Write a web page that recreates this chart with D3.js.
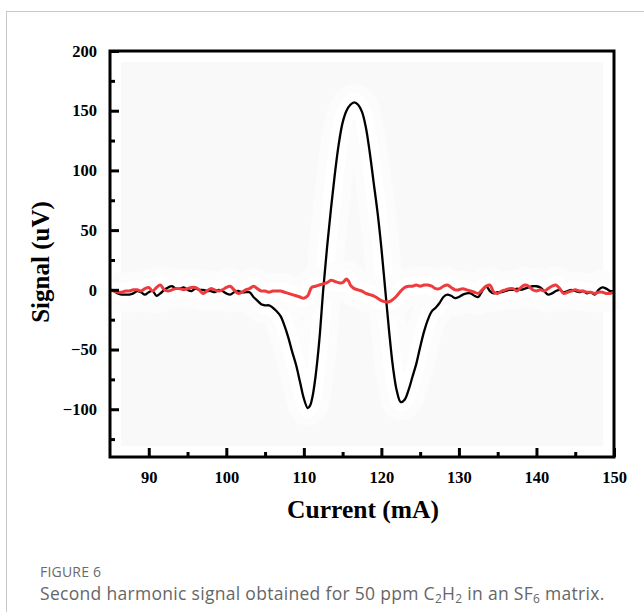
<!DOCTYPE html>
<meta charset="utf-8">
<script src="https://d3js.org/d3.v7.min.js"></script>
<style>
  body { margin: 0; background: #fff; }
  #card { position: absolute; left: 6px; top: 11px; width: 700px; height: 620px;
          border-top: 1px solid #c8c8c8; border-left: 1px solid #c8c8c8; }
  #caption { position: absolute; left: 40px; top: 562px; font-family: "Open Sans", sans-serif; color: #666; }
  #caption .fig { font-size: 14px; color: #6a6a6a; letter-spacing: 0.2px; }
  #caption .txt { font-size: 17.5px; letter-spacing: 0.3px; margin-top: 0px; }
  #caption sub { font-size: 12px; vertical-align: -3px; line-height: 0; }
</style>
<body>
<div id="card"></div>
<div id="visual"></div>
<div id="caption">
  <div class="fig">FIGURE 6</div>
  <div class="txt">Second harmonic signal obtained for 50 ppm C<sub>2</sub>H<sub>2</sub> in an SF<sub>6</sub> matrix.</div>
</div>
<script>
// x values (mA) and signal (uV)
var blackX = [85,85.5,86,86.5,87,87.5,88,88.5,89,89.5,90,90.5,91,91.5,92,92.5,93,93.5,94,94.5,95,95.5,96,96.5,97,97.5,98,98.5,99,99.5,100,100.5,101,101.5,102,102.5,103,103.5,104,104.5,105,105.5,106,106.5,107,107.5,108,108.5,109,109.5,110,110.5,110.8,111.1,111.5,112,112.5,113,113.5,114,114.5,115,115.5,116,116.5,117,117.5,118,118.5,119,119.5,120,120.5,121,121.5,122,122.5,123,123.5,124,124.5,125,125.5,126,126.5,127,127.5,128,128.5,129,129.5,130,130.5,131,131.5,132,132.5,133,133.5,134,134.5,135,135.5,136,136.5,137,137.5,138,138.5,139,139.5,140,140.5,141,141.5,142,142.5,143,143.5,144,144.5,145,145.5,146,146.5,147,147.5,148,148.5,149,149.5,150];
var blackY = [0,-1,-3,-4,-4,-4,-3,-1,-2,-4,-2,-1,-5,-3,0,2,3,1,1,2,0,-1,1,0,0,-1,-1,-2,0,-1,-3,-4,-2,-1,-2,-2,-2,-6,-9,-12,-13,-13,-15,-18,-22,-30,-40,-52,-63,-77,-91,-99,-97,-90,-73,-42,0,36,68,97,122,140,150,155,157,155,149,136,115,90,65,35,0,-35,-65,-85,-94,-92,-84,-73,-62,-48,-35,-25,-18,-15,-11,-6,-4,-5,-7,-6,-4,-3,-3,-5,-6,-1,3,-1,-3,-2,-2,-1,0,0,1,0,1,2,3,3,2,-1,-4,-3,-1,0,-2,-1,0,-1,-2,-1,-3,-2,-4,0,2,1,-1,-1];

var redX = [85,85.5,86,86.5,87,87.5,88,88.5,89,89.5,90,90.5,91,91.5,92,92.5,93,93.5,94,94.5,95,95.5,96,96.5,97,97.5,98,98.5,99,99.5,100,100.5,101,101.5,102,102.5,103,103.5,104,104.5,105,105.5,106,106.5,107,107.5,108,108.5,109,109.5,110,110.5,111,111.5,112,112.5,113,113.5,114,114.5,115,115.5,115.8,116,116.5,117,117.5,118,118.5,119,119.5,120,120.5,121,121.5,122,122.5,123,123.5,124,124.5,125,125.5,126,126.5,127,127.5,128,128.5,129,129.5,130,130.5,131,131.5,132,132.5,133,133.5,134,134.5,135,135.5,136,136.5,137,137.5,138,138.5,139,139.5,140,140.5,141,141.5,142,142.5,143,143.5,144,144.5,145,145.5,146,146.5,147,147.5,148,148.5,149,149.5,150];
var redY = [0,-1,-2,-2,-1,-1,0,0,-1,1,2,-1,2,4,0,-1,0,1,1,0,1,2,2,0,-3,-1,1,0,-1,0,2,3,0,-3,-2,0,1,3,1,-1,-1,-2,-1,-1,-1,-2,-3,-4,-5,-6,-7,-5,2,3,4,5,6,8,7,6,6,9,7,4,1,0,-1,-3,-4,-5,-7,-9,-10,-10,-8,-5,-1,2,3,3,4,3,4,4,3,1,1,3,4,2,0,0,1,0,-1,-2,-3,0,3,4,-2,-3,-1,0,1,1,-1,2,4,3,0,-1,0,-1,1,3,4,1,-3,-2,-1,0,-1,-1,-2,-2,-3,-2,-2,-3,-3,-2];

var xTicks = [90,100,110,120,130,140,150];
var yTicks = [-100,-50,0,50,100,150,200];

var margin = {top: 51, right: 30, bottom: 155, left: 110},
    width = 644 - margin.left - margin.right,
    height = 612 - margin.top - margin.bottom;

var svg = d3.select("#visual")
  .append("svg")
    .attr("width", 644)
    .attr("height", 612)
    .style("position", "absolute").style("left", 0).style("top", 0)
  .append("g")
    .attr("transform", "translate(" + margin.left + "," + margin.top + ")");

var x = d3.scaleLinear().domain([85, 150]).range([0, width]);
var y = d3.scaleLinear().domain([-140, 200]).range([height, 0]);

var black = blackX.map(function(v, i) { return [v, blackY[i]]; });
var red = redX.map(function(v, i) { return [v, redY[i]]; });

var line = d3.line()
  .x(function(d) { return x(d[0]); })
  .y(function(d) { return y(d[1]); })
  .curve(d3.curveCatmullRom);

// pale background with the white halo of the scan
svg.append("rect").attr("width", width).attr("height", height).attr("fill", "#f9f9f9");
svg.append("rect").attr("x", 0).attr("y", 0).attr("width", width).attr("height", height)
  .attr("fill", "none").attr("stroke", "#fff").attr("stroke-width", 22);
[black, red].forEach(function(s) {
  svg.append("path").datum(s).attr("fill", "none").attr("stroke", "#fcfcfc")
    .attr("stroke-width", 36).attr("stroke-linejoin", "round").attr("d", line);
  svg.append("path").datum(s).attr("fill", "none").attr("stroke", "#fff")
    .attr("stroke-width", 18).attr("stroke-linejoin", "round").attr("d", line);
});

// curves
svg.append("path").datum(black)
  .attr("fill", "none").attr("stroke", "#000").attr("stroke-width", 2.3)
  .attr("d", line);
svg.append("path").datum(red)
  .attr("fill", "none").attr("stroke", "#ee3b3d").attr("stroke-width", 3)
  .attr("stroke-linejoin", "round").attr("d", line);

// axes, ticks inside
var font = "'Liberation Serif', 'Times New Roman', serif";
var xAxis = svg.append("g")
  .attr("transform", "translate(0," + height + ")")
  .call(d3.axisBottom(x).tickValues(xTicks).tickSize(-9).tickPadding(14));
var xMinor = svg.append("g")
  .attr("transform", "translate(0," + height + ")")
  .call(d3.axisBottom(x).tickValues(d3.range(95, 150, 10)).tickSize(-5).tickFormat(""));
var yAxis = svg.append("g")
  .call(d3.axisLeft(y).tickValues(yTicks).tickSize(-9).tickPadding(13)
    .tickFormat(function(d) { return d < 0 ? "\u2212" + (-d) : d; }));
var yMinor = svg.append("g")
  .call(d3.axisLeft(y).tickValues(d3.range(-125, 200, 50)).tickSize(-5).tickFormat(""));

[xAxis, xMinor, yAxis, yMinor].forEach(function(g) {
  g.select(".domain").remove();
  g.selectAll("line").attr("stroke", "#000").attr("stroke-width", 3);
  g.selectAll("text").style("font-family", font).style("font-weight", "bold")
    .style("font-size", "16.5px").attr("fill", "#000");
});

svg.append("rect").attr("width", width).attr("height", height)
  .attr("fill", "none").attr("stroke", "#000").attr("stroke-width", 3);

svg.append("text")
  .attr("x", width / 2 + 1).attr("y", height + 61)
  .attr("text-anchor", "middle")
  .style("font-family", font).style("font-weight", "bold").style("font-size", "25.5px")
  .text("Current (mA)");

svg.append("text")
  .attr("transform", "translate(-61," + (height / 2 + 8) + ") rotate(-90)")
  .attr("text-anchor", "middle")
  .style("font-family", font).style("font-weight", "bold").style("font-size", "25px")
  .text("Signal (uV)");
</script>
</body>
